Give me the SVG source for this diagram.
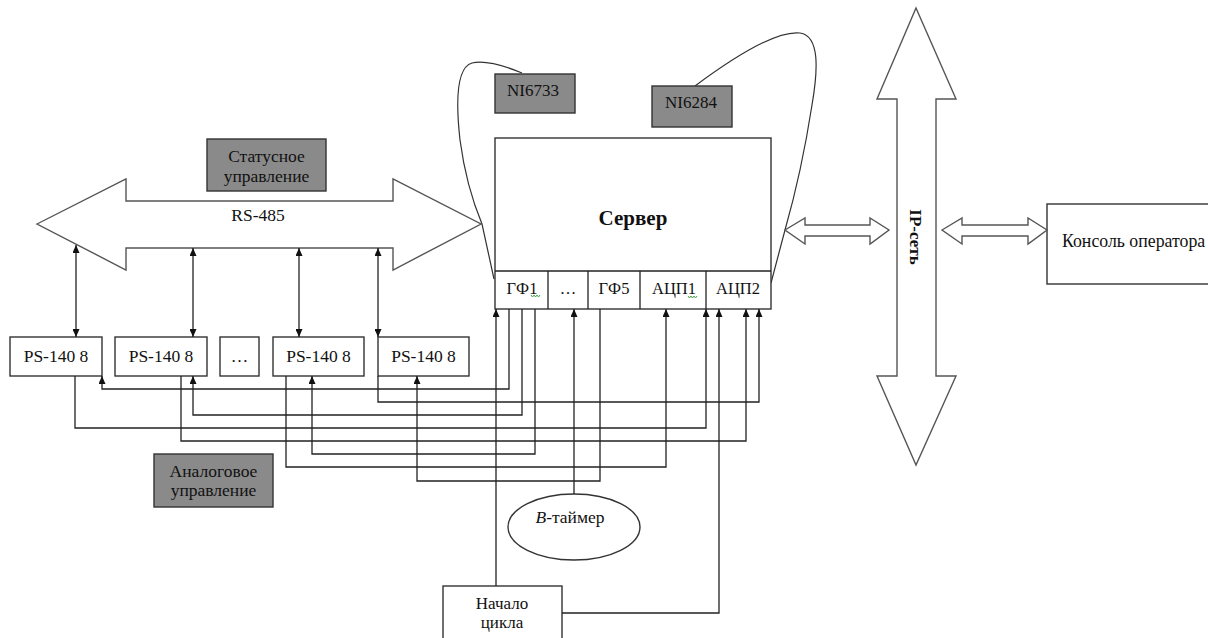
<svg xmlns="http://www.w3.org/2000/svg" width="1208" height="638" viewBox="0 0 1208 638">
  <defs>
    <marker id="ah" viewBox="0 0 8 7" refX="8" refY="3.5" markerWidth="8" markerHeight="7" markerUnits="userSpaceOnUse" orient="auto-start-reverse">
      <path d="M0,0 L8,3.5 L0,7 z" fill="#111"/>
    </marker>
    <style>
      .box { fill: #fff; stroke: #333; stroke-width: 1.4; }
      .grey { fill: #8a8a8a; stroke: #333; stroke-width: 1.4; }
      .big { fill: #fff; stroke: #555; stroke-width: 1.4; stroke-linejoin: miter; }
      .wire { fill: none; stroke: #222; stroke-width: 1.3; }
      .curve { fill: none; stroke: #333; stroke-width: 1.2; }
      .t { font-size: 17.5px; fill: #111; text-anchor: middle; }
      .c { font-size: 16.5px; }
      .b { font-weight: bold; }
      .sq { fill: none; stroke: #3a9a3a; stroke-width: 0.9; }
    </style>
  </defs>

  <!-- cable loops from the DAQ cards to the server ports -->
  <g id="cables">
    <path class="curve" d="M522 73 C505 66, 485 60, 472 63 C458 67, 455 95, 460 140 C464 170, 472 200, 482 224 L494 279"/>
    <path class="curve" d="M695 86 C730 60, 775 30, 800 33 C820 36, 818 70, 812 105 C805 150, 795 195, 785 230 L771 283"/>
  </g>

  <g font-family="'Liberation Serif', 'Times New Roman', 'DejaVu Serif', serif">
  <!-- RS-485 bus -->
  <g id="rs485">
    <path class="big" d="M37 224 L126 179 L126 201 L393 201 L393 179 L481 224 L393 270 L393 248 L126 248 L126 270 Z"/>
    <text class="t" x="258" y="221">RS-485</text>
  </g>

  <g id="status-label">
    <rect class="grey" x="207" y="139" width="119" height="52"/>
    <text class="t" x="266.5" y="162">Статусное</text>
    <text class="t" x="266.5" y="182">управление</text>
  </g>

  <g id="ni6733">
    <rect class="grey" x="495" y="74" width="80" height="39"/>
    <text class="t" x="533" y="96" style="font-size:17px">NI6733</text>
  </g>

  <g id="ni6284">
    <rect class="grey" x="652" y="86" width="80" height="41"/>
    <text class="t" x="691" y="108" style="font-size:17px">NI6284</text>
  </g>

  <!-- server with its port row -->
  <g id="server">
    <rect class="box" x="495" y="138" width="276" height="171"/>
    <line class="wire" x1="495" y1="271" x2="771" y2="271" stroke="#333"/>
    <line class="wire" x1="548" y1="271" x2="548" y2="309"/>
    <line class="wire" x1="588" y1="271" x2="588" y2="309"/>
    <line class="wire" x1="640" y1="271" x2="640" y2="309"/>
    <line class="wire" x1="706" y1="271" x2="706" y2="309"/>
    <text class="t b" x="633" y="225" style="font-size:21px">Сервер</text>
    <text class="t c" x="522" y="294">ГФ1</text>
    <text class="t c" x="568" y="294">…</text>
    <text class="t c" x="614" y="294">ГФ5</text>
    <text class="t c" x="674" y="294">АЦП1</text>
    <text class="t c" x="738" y="294">АЦП2</text>
    <path class="sq" d="M531 295 l1.5 2 l1.5 -2 l1.5 2 l1.5 -2 l1.5 2 l1.5 -2"/>
    <path class="sq" d="M688 296 l1.5 2 l1.5 -2 l1.5 2 l1.5 -2 l1.5 2 l1.5 -2"/>
  </g>

  <!-- IP network bus -->
  <g id="ip-net">
    <path class="big" d="M916 8 L956 99 L936 99 L936 376 L956 376 L916 465 L877 376 L897 376 L897 99 L877 99 Z"/>
    <text class="t b" transform="translate(916 237) rotate(90)" y="6" style="font-size:17px">IP-сеть</text>
  </g>

  <g id="console">
    <rect class="box" x="1047" y="204" width="170" height="80"/>
    <text class="t" x="1062" y="247" style="text-anchor:start;font-size:17.8px">Консоль оператора</text>
  </g>

  <!-- power supplies -->
  <g id="ps1">
    <rect class="box" x="10" y="337" width="92" height="39"/>
    <text class="t" x="56" y="362">PS-140 8</text>
  </g>
  <g id="ps2">
    <rect class="box" x="115" y="337" width="92" height="39"/>
    <text class="t" x="161" y="362">PS-140 8</text>
  </g>
  <g id="ps-more">
    <rect class="box" x="220" y="337" width="39" height="39"/>
    <text class="t" x="239.5" y="362">…</text>
  </g>
  <g id="ps3">
    <rect class="box" x="273" y="337" width="91" height="39"/>
    <text class="t" x="318.5" y="362">PS-140 8</text>
  </g>
  <g id="ps4">
    <rect class="box" x="378" y="337" width="91" height="39"/>
    <text class="t" x="423.5" y="362">PS-140 8</text>
  </g>

  <g id="analog-label">
    <rect class="grey" x="154" y="454" width="119" height="53"/>
    <text class="t" x="213.5" y="477">Аналоговое</text>
    <text class="t" x="213.5" y="496">управление</text>
  </g>

  <g id="timer">
    <ellipse class="box" cx="574" cy="527" rx="66" ry="33"/>
    <text class="t" x="570" y="523"><tspan font-style="italic">B</tspan>-таймер</text>
  </g>

  <g id="cycle-start">
    <rect class="box" x="443" y="586" width="119" height="60"/>
    <text class="t" x="502" y="609" style="font-size:17px">Начало</text>
    <text class="t" x="502" y="628" style="font-size:17px">цикла</text>
  </g>
  </g>

  <!-- connectors -->
  <g id="connectors">
    <!-- RS-485 taps -->
    <path class="wire" d="M76 245 V337" marker-start="url(#ah)" marker-end="url(#ah)"/>
    <path class="wire" d="M193 248 V337" marker-start="url(#ah)" marker-end="url(#ah)"/>
    <path class="wire" d="M299 248 V337" marker-start="url(#ah)" marker-end="url(#ah)"/>
    <path class="wire" d="M378 248 V337" marker-start="url(#ah)" marker-end="url(#ah)"/>
    <!-- generator outputs to supplies -->
    <path class="wire" d="M509 309 V389 H102 V376" marker-end="url(#ah)"/>
    <path class="wire" d="M522 309 V415 H193 V376" marker-end="url(#ah)"/>
    <path class="wire" d="M535 309 V454 H312 V376" marker-end="url(#ah)"/>
    <path class="wire" d="M600 309 V481 H417 V376" marker-end="url(#ah)"/>
    <!-- supply feedback to ADC inputs -->
    <path class="wire" d="M75 376 V428 H706 V309" marker-end="url(#ah)"/>
    <path class="wire" d="M181 376 V441 H746 V309" marker-end="url(#ah)"/>
    <path class="wire" d="M286 376 V467 H666 V309" marker-end="url(#ah)"/>
    <path class="wire" d="M378 376 V402 H759 V309" marker-end="url(#ah)"/>
    <!-- cycle start and timer -->
    <path class="wire" d="M496 586 V309" marker-end="url(#ah)"/>
    <path class="wire" d="M562 613 H719 V309" marker-end="url(#ah)"/>
    <path class="wire" d="M574 494 V309" marker-end="url(#ah)"/>
    <!-- server / console links to IP network -->
    <path class="big" d="M785 230 L805 218 L805 225 L870 225 L870 218 L889 230 L870 244 L870 236 L805 236 L805 244 Z"/>
    <path class="big" d="M942 230 L962 218 L962 225 L1028 225 L1028 218 L1047 230 L1028 244 L1028 236 L962 236 L962 244 Z"/>
  </g>
</svg>
